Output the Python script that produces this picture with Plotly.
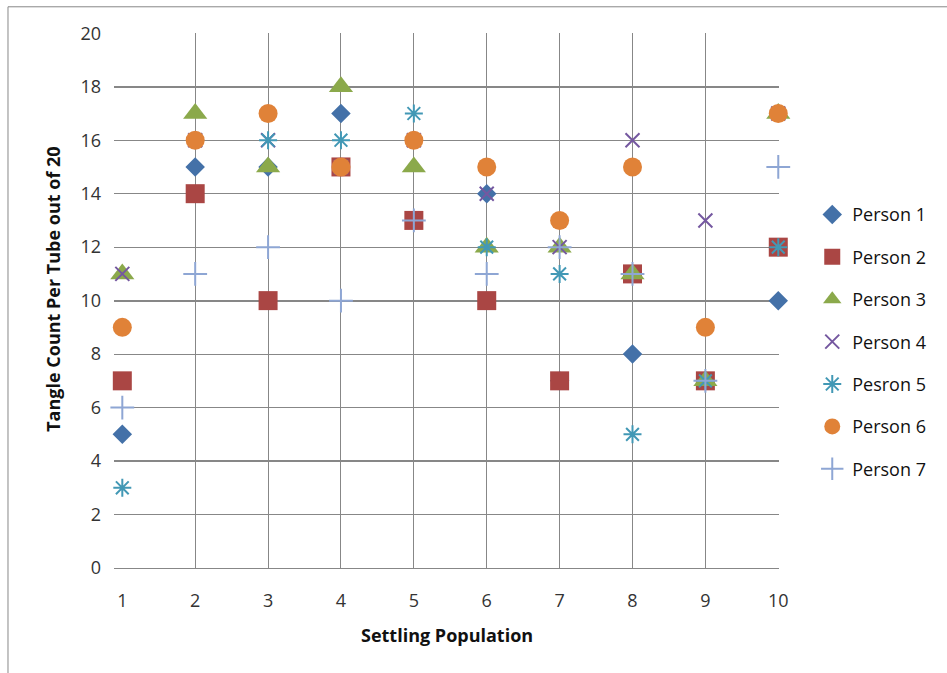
import plotly.graph_objects as go

# Settling population (x) and tangle counts per tube out of 20 for each person
settling = [1, 2, 3, 4, 5, 6, 7, 8, 9, 10]
person1 = [5, 15, 15, 17, 13, 14, 7, 8, 7, 10]
person2 = [7, 14, 10, 15, 13, 10, 7, 11, 7, 12]
person3 = [11, 17, 15, 18, 15, 12, 12, 11, 7, 17]
person4 = [11, 16, 16, 15, 16, 14, 12, 16, 13, 17]
person5 = [3, 16, 16, 16, 17, 12, 11, 5, 7, 12]
person6 = [9, 16, 17, 15, 16, 15, 13, 15, 9, 17]
person7 = [6, 11, 12, 10, 13, 11, 12, 11, 7, 15]

series_names = ["Person 1", "Person 2", "Person 3", "Person 4",
                "Pesron 5", "Person 6", "Person 7"]
series_values = [person1, person2, person3, person4, person5, person6, person7]

y_ticks = list(range(0, 21, 2))
heavy_y_grid = [4, 10, 18]

styles = [
    dict(symbol="diamond", size=15, color="#4471A8", line=dict(width=0)),
    dict(symbol="square", size=19, color="#AA4644", line=dict(width=0)),
    dict(symbol="triangle-up", size=21, color="#8BA94B", line=dict(width=0)),
    dict(symbol="x-thin", size=14, color="#7558A0", line=dict(width=2, color="#7558A0")),
    dict(symbol="asterisk", size=15, color="#4298B5", line=dict(width=2, color="#4298B5")),
    dict(symbol="circle", size=19, color="#E08238", line=dict(width=0)),
    dict(symbol="cross-thin", size=17, color="#8EA6D4", line=dict(width=2, color="#8EA6D4")),
]

GRID = "#878787"
FONT = "Open Sans"

fig = go.Figure()
for i, (name, vals, st) in enumerate(zip(series_names, series_values, styles)):
    fig.add_trace(go.Scatter(
        x=settling, y=vals, name=name, mode="markers",
        marker=st, cliponaxis=False, legendgroup=f"g{i}",
    ))

fig.update_layout(
    width=947, height=673,
    margin=dict(l=114, r=168, t=33, b=105),
    paper_bgcolor="white", plot_bgcolor="white",
    font=dict(family=FONT, size=18, color="#222"),
    showlegend=True,
    legend=dict(x=1.05, y=0.423, xanchor="left", yanchor="middle",
                font=dict(family=FONT, size=18, color="#111"),
                tracegroupgap=16, bgcolor="rgba(0,0,0,0)"),
    # labelled ticks at every category; vertical grid only from 2 onwards
    xaxis=dict(range=[0.886, 10.01], tickvals=settling, showgrid=False,
               zeroline=False, showline=False, ticks="",
               ticklabelstandoff=20,
               tickfont=dict(family=FONT, size=18, color="#333"),
               minor=dict(tickvals=settling[1:], showgrid=True,
                          gridcolor=GRID, gridwidth=1, ticks="")),
    yaxis=dict(range=[0, 20.01], tickvals=y_ticks, showgrid=True,
               gridcolor=GRID, gridwidth=1, zeroline=True,
               zerolinecolor=GRID, zerolinewidth=1, showline=False,
               ticks="", ticklabelstandoff=12,
               tickfont=dict(family=FONT, size=18, color="#333"),
               minor=dict(tickvals=heavy_y_grid, showgrid=True,
                          gridcolor=GRID, gridwidth=2, ticks="")),
    annotations=[
        dict(text="<b>Settling Population</b>", xref="paper", yref="paper",
             x=0.5, y=-0.125, xanchor="center", yanchor="middle",
             showarrow=False, font=dict(family=FONT, size=18, color="#111")),
        dict(text="<b>Tangle Count Per Tube out of 20</b>", xref="paper",
             yref="paper", x=-0.0917, y=0.52, xanchor="center",
             yanchor="middle", textangle=-90, showarrow=False,
             font=dict(family=FONT, size=18, color="#111")),
    ],
    shapes=[
        dict(type="rect", xref="paper", yref="paper",
             x0=-0.1594, x1=1.3, y0=-0.3, y1=1.049,
             line=dict(color="#888888", width=1), layer="below"),
    ],
)

fig.write_html("out.html")
